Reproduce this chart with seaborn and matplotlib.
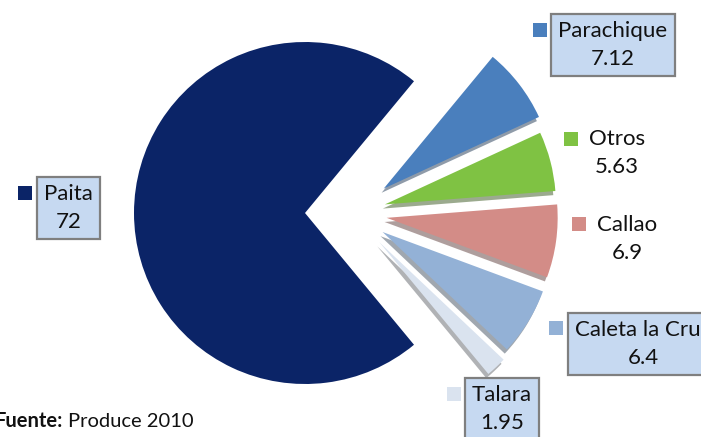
"""
Pie chart de desembarques por puerto (Produce 2010)
"""

import matplotlib
matplotlib.use("Agg")
import matplotlib.pyplot as plt
from matplotlib.patches import Shadow
import seaborn as sns

# Datos (orden de dibujo, en sentido antihorario desde Paita)
puertos = ["Paita", "Talara", "Caleta la Cruz", "Callao", "Otros", "Parachique"]
valores = [72, 1.95, 6.4, 6.9, 5.63, 7.12]
etiquetas_valor = ["72", "1.95", "6.4", "6.9", "5.63", "7.12"]
colores = ["#0b2467", "#dae3ef", "#93b1d6", "#d38c87", "#7fc243", "#4a7fbd"]
# separacion en pixeles de las porciones pequenas (se dibujan en un segundo pie)
separacion = [0, 40, 36, 35, 34, 40]

# Posiciones de las etiquetas (pixeles de la figura) y si llevan caja
pos_texto = [(68.5, 208), (502, 409), (643, 344), (627, 239), (617, 153), (613, 45)]
pos_marca = [(25, 193), (454, 394), (555.5, 327.5), (579, 224), (571, 138.5), (539.5, 29.5)]
con_caja = [True, True, True, False, False, True]

sns.set_theme(style="white")
plt.rcParams["font.family"] = ["Lato", "DejaVu Sans"]

W, H = 701, 437
fig = plt.figure(figsize=(W / 100, H / 100), dpi=100)
ax = fig.add_axes([0, 0, 1, 1])

# pie principal: solo se ve Paita
cunas1, _ = ax.pie(valores, colors=colores, startangle=50.4, counterclock=True,
                   center=(305, H - 213), radius=171,
                   wedgeprops={"linewidth": 0}, frame=True)
for c in cunas1[1:]:
    c.set_visible(False)

# segundo pie desplazado: las porciones pequenas separadas
cunas2, _ = ax.pie(valores, colors=colores, startangle=50.4, counterclock=True,
                   explode=separacion, center=(352, H - 213), radius=171,
                   shadow={"ox": -1.5, "oy": -3.0, "shade": 0.55},
                   wedgeprops={"linewidth": 0}, frame=True)
cunas2[0].set_visible(False)
for p in list(ax.patches):
    if isinstance(p, Shadow) and p.patch is cunas2[0]:
        p.remove()

for nombre, val, col, (tx, ty), (mx, my), caja in zip(
        puertos, etiquetas_valor, colores, pos_texto, pos_marca, con_caja):
    bbox = None
    if caja:
        bbox = dict(boxstyle="square,pad=0.32", fc="#c6d9f1", ec="#7f7f7f", lw=1.6)
    ax.text(tx, H - ty, f"{nombre}\n{val}", ha="center", va="center",
            fontsize=16, color="#111111", linespacing=1.45, bbox=bbox, zorder=5)
    ax.scatter([mx], [H - my], marker="s", s=90, color=col, linewidths=0, zorder=5)

ax.text(63, H - 427, "Fuente:", ha="right", va="baseline", fontsize=14.5,
        fontweight="bold", color="#111111")
ax.text(68, H - 427, "Produce 2010", ha="left", va="baseline", fontsize=14.5,
        color="#111111")

ax.set_xlim(0, W)
ax.set_ylim(0, H)
ax.set_aspect("auto")
ax.set_axis_off()

plt.savefig("out.png", dpi=100)
